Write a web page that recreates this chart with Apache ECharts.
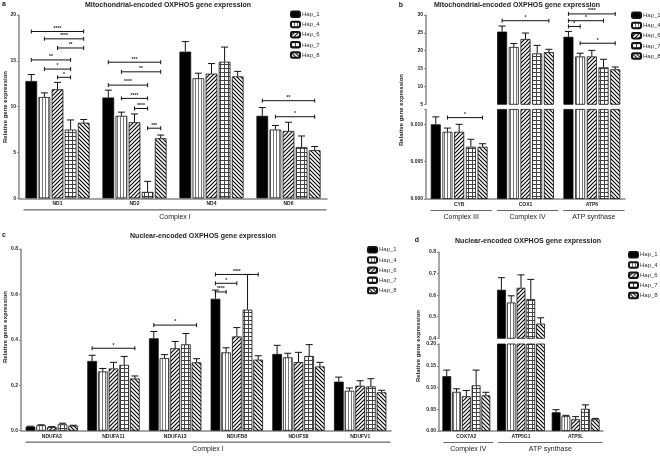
<!DOCTYPE html>
<html>
<head>
<meta charset="utf-8">
<script src="https://cdn.jsdelivr.net/npm/echarts@6/dist/echarts.min.js"></script>
<style>
html,body{margin:0;padding:0;background:#fff}
#main{width:660px;height:458px}
</style>
</head>
<body>
<div id="main"></div>
<script>
var haps = ['Hap_1', 'Hap_4', 'Hap_6', 'Hap_7', 'Hap_8'];

// a - mitochondrial, complex I  (rows = haps, cols = genes)
var catA = ['ND1', 'ND2', 'ND4', 'ND6'];
var meanA = [
  [12.8, 11.0, 16.0, 9.0],
  [11.05, 9.0, 13.1, 7.5],
  [11.9, 8.3, 13.6, 7.35],
  [7.5, 0.7, 14.9, 5.6],
  [8.25, 6.55, 13.3, 5.25]
];
var semA = [
  [0.7, 0.8, 1.1, 0.9],
  [0.45, 0.4, 0.55, 0.45],
  [0.75, 0.9, 1.1, 0.95],
  [1.05, 1.15, 1.6, 1.2],
  [0.35, 0.35, 0.55, 0.4]
];
// [gene, from hap, to hap, y, stars]
var sigA = [
  [0, 0, 4, 18.2, '****'], [0, 1, 4, 17.4, '****'], [0, 2, 4, 16.4, '**'],
  [0, 0, 3, 15.1, '**'], [0, 1, 3, 14.1, '*'], [0, 2, 3, 13.2, '*'],
  [1, 0, 4, 14.85, '***'], [1, 1, 4, 13.8, '**'], [1, 0, 3, 12.35, '****'],
  [1, 1, 3, 10.9, '****'], [1, 2, 3, 9.8, '****'], [1, 3, 4, 7.65, '***'],
  [3, 0, 4, 10.65, '**'], [3, 1, 4, 8.9, '*']
];
var grpA = ['Complex I'];
var grpSpanA = [[0, 3]];

// b - mitochondrial, complex III / IV / ATP synthase
var catB = ['CYB', 'COX1', 'ATP6'];
var meanB = [
  [0.0100, 25.35, 23.9],
  [0.0090, 21.05, 18.4],
  [0.0090, 23.3, 18.4],
  [0.0070, 19.25, 15.35],
  [0.0070, 19.6, 14.8]
];
var semB = [
  [0.0010, 1.55, 1.5],
  [0.0005, 0.95, 0.9],
  [0.0010, 1.65, 1.7],
  [0.0010, 2.25, 2.25],
  [0.0004, 0.8, 0.65]
];
var sigBHigh = [
  [1, 0, 4, 28.4, '*'], [2, 0, 4, 30.3, '****'], [2, 0, 3, 28.4, '*'],
  [2, 0, 1, 26.8, '*'], [2, 1, 4, 22.1, '*']
];
var sigBLow = [[0, 1, 4, 0.0109, '*']];
var grpB = ['Complex III', 'Complex IV', 'ATP synthase'];
var grpSpanB = [[0, 0], [1, 1], [2, 2]];

// c - nuclear, complex I
var catC = ['NDUFA3', 'NDUFA11', 'NDUFA13', 'NDUFB8', 'NDUFS8', 'NDUFV1'];
var meanC = [
  [0.018, 0.307, 0.407, 0.581, 0.338, 0.216],
  [0.024, 0.261, 0.320, 0.345, 0.323, 0.176],
  [0.016, 0.274, 0.363, 0.415, 0.302, 0.198],
  [0.028, 0.290, 0.380, 0.533, 0.329, 0.195],
  [0.022, 0.230, 0.301, 0.313, 0.283, 0.169]
];
var semC = [
  [0.002, 0.025, 0.030, 0.038, 0.038, 0.020],
  [0.002, 0.013, 0.015, 0.020, 0.018, 0.012],
  [0.002, 0.027, 0.030, 0.039, 0.043, 0.022],
  [0.005, 0.037, 0.048, 0.155, 0.050, 0.034],
  [0.002, 0.011, 0.016, 0.017, 0.018, 0.009]
];
var sigC = [
  [1, 0, 4, 0.363, '*'], [2, 0, 4, 0.465, '*'],
  [3, 0, 4, 0.688, '****'], [3, 0, 2, 0.649, '*'], [3, 0, 1, 0.611, '****']
];
var grpC = ['Complex I'];
var grpSpanC = [[0, 5]];

// d - nuclear, complex IV / ATP synthase
var catD = ['COX7A2', 'ATP5G1', 'ATP5L'];
var meanD = [
  [0.126, 0.625, 0.043],
  [0.090, 0.566, 0.034],
  [0.080, 0.634, 0.027],
  [0.105, 0.582, 0.051],
  [0.082, 0.468, 0.027]
];
var semD = [
  [0.014, 0.056, 0.006],
  [0.007, 0.031, 0.002],
  [0.013, 0.060, 0.006],
  [0.035, 0.091, 0.009],
  [0.007, 0.027, 0.002]
];
var grpD = ['Complex IV', 'ATP synthase'];
var grpSpanD = [[0, 0], [1, 2]];

var FONT = '"Liberation Sans", Arial, sans-serif';
var INK = '#222';

// hatch fills drawn on tiny canvases
function hatch(kind) {
  var c = document.createElement('canvas');
  var n = kind === 'v' ? 3 : 4;
  c.width = n; c.height = n;
  var g = c.getContext('2d');
  g.fillStyle = '#fff';
  g.fillRect(0, 0, n, n);
  g.fillStyle = '#000';
  g.strokeStyle = '#000';
  g.lineWidth = 1.1;
  if (kind === 'v') {
    g.fillStyle = '#777';
    g.fillRect(0, 0, 1, n);
  } else if (kind === 'grid') {
    g.fillStyle = '#444';
    g.fillRect(0, 0, n, 1);
    g.fillRect(0, 0, 1, n);
  } else if (kind === 'up') {
    g.beginPath();
    g.moveTo(-1, 5); g.lineTo(5, -1);
    g.moveTo(-1, 1); g.lineTo(1, -1);
    g.moveTo(3, 5); g.lineTo(5, 3);
    g.stroke();
  } else {
    g.beginPath();
    g.moveTo(-1, -1); g.lineTo(5, 5);
    g.moveTo(-1, 3); g.lineTo(1, 5);
    g.moveTo(3, -1); g.lineTo(5, 1);
    g.stroke();
  }
  return { image: c, repeat: 'repeat' };
}
var fills = ['#000', hatch('v'), hatch('up'), hatch('grid'), hatch('down')];

function bars(xi, yi, means, bw, gap, keep) {
  return haps.map(function (h, i) {
    return {
      name: h, type: 'bar', xAxisIndex: xi, yAxisIndex: yi,
      barWidth: bw, barGap: gap,
      clip: true, animation: false, silent: true,
      data: means[i].map(function (v) { return keep(v) ? v : '-'; }),
      itemStyle: { color: fills[i], borderColor: '#111', borderWidth: 0.8 }
    };
  });
}

function errors(xi, yi, means, sems, step, keep) {
  var data = [];
  means.forEach(function (row, i) {
    row.forEach(function (v, c) {
      if (keep(v)) data.push([c, i, v, v + sems[i][c]]);
    });
  });
  return {
    type: 'custom', xAxisIndex: xi, yAxisIndex: yi, z: 5,
    silent: true, clip: false, animation: false,
    encode: { x: 0, y: 2 },
    data: data,
    renderItem: function (params, api) {
      var p0 = api.coord([api.value(0), api.value(2)]);
      var p1 = api.coord([api.value(0), api.value(3)]);
      var x = p0[0] + (api.value(1) - 2) * step;
      var st = { stroke: '#111', lineWidth: 1 };
      return {
        type: 'group', children: [
          { type: 'line', shape: { x1: x, y1: p0[1], x2: x, y2: p1[1] }, style: st },
          { type: 'line', shape: { x1: x - 3.5, y1: p1[1], x2: x + 3.5, y2: p1[1] }, style: st }
        ]
      };
    }
  };
}

function brackets(xi, yi, sigs, step) {
  return {
    type: 'custom', xAxisIndex: xi, yAxisIndex: yi, z: 6,
    silent: true, clip: false, animation: false,
    encode: { x: 0, y: 3 },
    data: sigs.map(function (s) { return [s[0], s[1], s[2], s[3]]; }),
    renderItem: function (params, api) {
      var p = api.coord([api.value(0), api.value(3)]);
      var xa = p[0] + (api.value(1) - 2) * step;
      var xb = p[0] + (api.value(2) - 2) * step;
      var y = p[1];
      var st = { stroke: '#111', lineWidth: 1 };
      return {
        type: 'group', children: [
          { type: 'line', shape: { x1: xa, y1: y, x2: xb, y2: y }, style: st },
          { type: 'line', shape: { x1: xa, y1: y - 2, x2: xa, y2: y + 2 }, style: st },
          { type: 'line', shape: { x1: xb, y1: y - 2, x2: xb, y2: y + 2 }, style: st },
          {
            type: 'text', x: (xa + xb) / 2, y: y - 0.5,
            style: {
              text: sigs[params.dataIndex][4], fill: INK, align: 'center', verticalAlign: 'bottom',
              fontSize: 5, fontWeight: 'bold', fontFamily: FONT
            }
          }
        ]
      };
    }
  };
}

// underline + label for the gene groups under the x axis
function groups(xi, yi, spans, names) {
  return {
    type: 'custom', xAxisIndex: xi, yAxisIndex: yi,
    silent: true, clip: false, animation: false,
    encode: { x: 0, y: 1 },
    data: spans,
    renderItem: function (params, api) {
      var band = api.size([1, 0])[0];
      var x0 = api.coord([api.value(0), 0])[0] - band / 2 + 4.5;
      var x1 = api.coord([api.value(1), 0])[0] + band / 2 - 0.5;
      var y = params.coordSys.y + params.coordSys.height + 11.5;
      return {
        type: 'group', children: [
          { type: 'line', shape: { x1: x0, y1: y, x2: x1, y2: y }, style: { stroke: '#666', lineWidth: 1.2 } },
          {
            type: 'text', x: (x0 + x1) / 2, y: y + 7,
            style: {
              text: names[params.dataIndex], fill: INK, align: 'center', verticalAlign: 'middle',
              fontSize: 7, fontFamily: FONT
            }
          }
        ]
      };
    }
  };
}

function xAx(gi, cats, show) {
  return {
    type: 'category', gridIndex: gi, data: cats, show: show,
    axisLine: { lineStyle: { color: '#888', width: 1.5 } },
    axisTick: { show: false },
    axisLabel: { interval: 0, margin: 3, fontSize: 5, fontWeight: 'bold', color: INK, fontFamily: FONT }
  };
}

function yAx(gi, min, max, step, fmt) {
  return {
    type: 'value', gridIndex: gi, min: min, max: max, interval: step,
    splitLine: { show: false },
    axisLine: { show: true, lineStyle: { color: '#888', width: 1.5 } },
    axisTick: { show: true, length: 2, lineStyle: { color: '#888' } },
    axisLabel: {
      margin: 3, fontSize: 5, fontWeight: 'bold', color: INK, fontFamily: FONT,
      formatter: function (v) {
        var k = (v - min) / step;
        return Math.abs(k - Math.round(k)) < 1e-6 ? v.toFixed(fmt) : '';
      }
    }
  };
}

function legendAt(left, top) {
  return {
    data: haps, orient: 'vertical', left: left, top: top, padding: 0,
    itemWidth: 9, itemHeight: 5.5, itemGap: 2.7, selectedMode: false,
    textStyle: { fontSize: 6, lineHeight: 6, color: '#333', fontFamily: FONT, padding: [0, 0, 0, -3] }
  };
}

function txt(x, y, s, size, bold, rot) {
  return {
    type: 'text', x: x, y: y, rotation: rot || 0, silent: true,
    style: {
      text: s, fill: INK, align: 'center', verticalAlign: 'middle',
      fontSize: size, fontWeight: bold ? 'bold' : 'normal', fontFamily: FONT
    }
  };
}

var all = function () { return true; };
var stepA = 13.1, stepB = 11.7, stepC = 10.7, stepD = 9.8;

var series = [].concat(
  bars(0, 0, meanA, 11.7, '12%', all),
  [errors(0, 0, meanA, semA, stepA, all), brackets(0, 0, sigA, stepA), groups(0, 0, grpSpanA, grpA)],
  bars(1, 1, meanB, 10, '17%', function (v) { return v >= 5; }),
  [errors(1, 1, meanB, semB, stepB, function (v) { return v >= 5; }), brackets(1, 1, sigBHigh, stepB)],
  bars(2, 2, meanB, 10, '17%', all),
  [errors(2, 2, meanB, semB, stepB, function (v) { return v < 0.012; }), brackets(2, 2, sigBLow, stepB), groups(2, 2, grpSpanB, grpB)],
  bars(3, 3, meanC, 9.7, '10%', all),
  [errors(3, 3, meanC, semC, stepC, all), brackets(3, 3, sigC, stepC), groups(3, 3, grpSpanC, grpC)],
  bars(4, 4, meanD, 8.8, '11%', function (v) { return v >= 0.4; }),
  [errors(4, 4, meanD, semD, stepD, function (v) { return v >= 0.4; })],
  bars(5, 5, meanD, 8.8, '11%', all),
  [errors(5, 5, meanD, semD, stepD, function (v) { return v < 0.2; }), groups(5, 5, grpSpanD, grpD)]
);

var dom = document.getElementById('main');
var myChart = echarts.init(dom);
var option = {
  backgroundColor: '#fff',
  animation: false,
  grid: [
    { left: 19, top: 15, width: 308, height: 183.3 },
    { left: 426, top: 15, width: 199, height: 89.3 },
    { left: 426, top: 109.4, width: 199, height: 89.6 },
    { left: 21, top: 249, width: 370, height: 181.7 },
    { left: 439, top: 252, width: 164, height: 86.3 },
    { left: 439, top: 344, width: 164, height: 87 }
  ],
  xAxis: [
    xAx(0, catA, true), xAx(1, catB, false), xAx(2, catB, true),
    xAx(3, catC, true), xAx(4, catD, false), xAx(5, catD, true)
  ],
  yAxis: [
    yAx(0, 0, 20, 5, 0),
    yAx(1, 5, 30, 5, 0),
    yAx(2, 0, 0.012, 0.005, 3),
    yAx(3, 0, 0.8, 0.2, 1),
    yAx(4, 0.4, 0.8, 0.1, 1),
    yAx(5, 0, 0.2, 0.05, 2)
  ],
  legend: [legendAt(290, 10.5), legendAt(631, 11.5), legendAt(367, 246), legendAt(628, 251)],
  graphic: [
    txt(4, 4, 'a', 7, true),
    txt(168, 5, 'Mitochondrial-encoded OXPHOS gene expression', 7, true),
    txt(5, 107, 'Relative gene expression', 6, true, Math.PI / 2),
    txt(401, 5, 'b', 7, true),
    txt(517, 5, 'Mitochondrial-encoded OXPHOS gene expression', 7, true),
    txt(401, 110, 'Relative gene expression', 6, true, Math.PI / 2),
    txt(4, 235, 'c', 7, true),
    txt(203, 236, 'Nuclear-encoded OXPHOS gene expression', 7, true),
    txt(5, 327, 'Relative gene expression', 6, true, Math.PI / 2),
    txt(417, 240, 'd', 7, true),
    txt(528, 241, 'Nuclear-encoded OXPHOS gene expression', 7, true),
    txt(418, 346, 'Relative gene expression', 6, true, Math.PI / 2)
  ],
  series: series
};
myChart.setOption(option, true);
</script>
</body>
</html>
